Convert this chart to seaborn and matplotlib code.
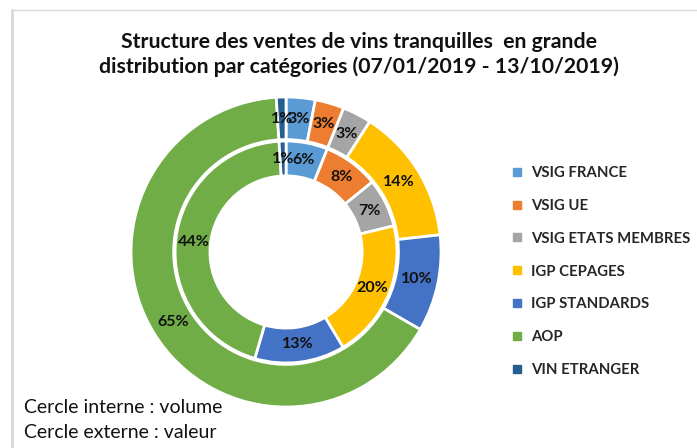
import matplotlib
matplotlib.use("Agg")
import matplotlib.pyplot as plt
import seaborn as sns
from matplotlib.lines import Line2D

# data
categories = ["VSIG FRANCE", "VSIG UE", "VSIG ETATS MEMBRES", "IGP CEPAGES",
              "IGP STANDARDS", "AOP", "VIN ETRANGER"]
valeur_pct = [3, 3, 3, 14, 10, 65, 1]   # outer ring
volume_pct = [6, 8, 7, 20, 13, 44, 1]   # inner ring
colors = ["#5B9BD5", "#ED7D31", "#A5A5A5", "#FFC000", "#4472C4", "#70AD47", "#255E91"]

sns.set_theme(style="white")
plt.rcParams['font.family'] = ['Lato', 'DejaVu Sans']

fig = plt.figure(figsize=(6.97, 4.48), dpi=100)
ax = fig.add_axes([0.188, 0.0915, 0.4448, 0.692])


def make_fmt(vals):
    total = sum(vals)
    return lambda p: f"{round(p * total / 100):.0f}%"


wp = dict(edgecolor="white", linewidth=2)
outer, _, outer_txt = ax.pie(valeur_pct, radius=1.0, colors=colors, startangle=90,
                             counterclock=False, autopct=make_fmt(valeur_pct),
                             pctdistance=0.86, wedgeprops=dict(width=0.275, **wp))
inner, _, inner_txt = ax.pie(volume_pct, radius=0.716, colors=colors, startangle=90,
                             counterclock=False, autopct=make_fmt(volume_pct),
                             pctdistance=0.84, wedgeprops=dict(width=0.225, **wp))
for t in outer_txt + inner_txt:
    t.set_fontsize(11.5)
    t.set_fontweight("bold")
    t.set_color("#111111")
ax.set_xlim(-1, 1)
ax.set_ylim(-1, 1)
ax.set_aspect("equal")
ax.axis("off")

fig.text(0.515, 0.878, "Structure des ventes de vins tranquilles  en grande\n"
         "distribution par catégories (07/01/2019 - 13/10/2019)",
         ha="center", va="center", fontsize=15.3, fontweight="bold",
         linespacing=1.3, color="#111111")

handles = [Line2D([], [], marker="s", linestyle="none", markersize=6,
                  markerfacecolor=c, markeredgecolor=c) for c in colors]
fig.legend(handles, categories, loc="upper left", bbox_to_anchor=(0.725, 0.643),
           frameon=False, prop=dict(size=10.7, weight="bold"), labelspacing=1.27,
           handlelength=0.8, handletextpad=0.5, borderaxespad=0)

fig.text(0.035, 0.09, "Cercle interne : volume", fontsize=14, va="center", color="#111111")
fig.text(0.035, 0.035, "Cercle externe : valeur", fontsize=14, va="center", color="#111111")

# chart border (top and left visible)
fig.add_artist(Line2D([0.016, 1.0], [0.977, 0.977], color="#d9d9d9", lw=1))
fig.add_artist(Line2D([0.0165, 0.0165], [0.0, 0.977], color="#d9d9d9", lw=2))

fig.savefig("out.png", dpi=100, facecolor="white")
